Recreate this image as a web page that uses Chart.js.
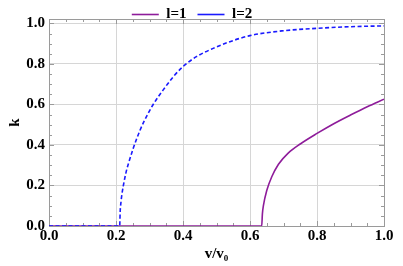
<!DOCTYPE html>
<html>
<head>
<meta charset="utf-8">
<script src="https://cdn.jsdelivr.net/npm/chart.js@4.4.1/dist/chart.umd.min.js"></script>
<style>
  html, body { margin: 0; padding: 0; background: #ffffff; }
  #wrap { width: 403px; height: 266px; position: relative; }
</style>
</head>
<body>
<div id="wrap"><canvas id="c" width="403" height="266"></canvas></div>
<script>
// ---- data ----
const seriesNames = ["l=1", "l=2"];
const xL1 = [0, 0.635, 0.637, 0.640, 0.650, 0.665, 0.685, 0.714, 0.750, 0.800, 0.850, 0.900, 0.950, 1.000];
const kL1 = [0, 0,     0.060, 0.100, 0.175, 0.243, 0.305, 0.360, 0.405, 0.457, 0.505, 0.548, 0.589, 0.626];
const xL2 = [0, 0.211, 0.2125, 0.215, 0.218, 0.222, 0.230, 0.239, 0.252, 0.272, 0.285, 0.311, 0.341, 0.371, 0.400, 0.440, 0.490, 0.540, 0.600, 0.700, 0.800, 0.900, 1.000];
const kL2 = [0, 0,     0.072,  0.120, 0.160, 0.200, 0.265, 0.318, 0.386, 0.474, 0.521, 0.600, 0.672, 0.737, 0.787, 0.836, 0.877, 0.910, 0.940, 0.964, 0.976, 0.984, 0.988];
const xTicks = [0, 0.2, 0.4, 0.6, 0.8, 1.0];
const yTicks = [0, 0.2, 0.4, 0.6, 0.8, 1.0];

const FONT = "'Liberation Serif', 'Times New Roman', serif";
const FS = 15;
const toPts = (xs, ys) => xs.map((x, i) => ({ x: x, y: ys[i] }));

const legendHeightPlugin = {
  id: 'legendHeight',
  beforeUpdate(chart) {
    const lg = chart.legend;
    if (lg && !lg._patched) {
      lg._patched = true;
      const origFit = lg.fit;
      lg.fit = function () { origFit.call(this); this.height = 23; };
    }
  }
};

const framePlugin = {
  id: 'frame',
  beforeDatasetsDraw(chart) {
    const { ctx, chartArea: a, scales } = chart;
    const xs = scales.x, ys = scales.y;
    ctx.save();
    ctx.strokeStyle = '#9a9a9a';
    ctx.lineWidth = 1;
    ctx.beginPath();
    for (let i = 0; i <= 20; i++) {
      const v = i * 0.05;
      const major = i % 4 === 0;
      const len = major ? 5 : 3;
      const px = Math.round(xs.getPixelForValue(v)) + 0.5;
      ctx.moveTo(px, a.bottom); ctx.lineTo(px, a.bottom - len);
      ctx.moveTo(px, a.top); ctx.lineTo(px, a.top + len);
      const py = Math.round(ys.getPixelForValue(v)) + 0.5;
      ctx.moveTo(a.left, py); ctx.lineTo(a.left + len, py);
      ctx.moveTo(a.right, py); ctx.lineTo(a.right - len, py);
    }
    ctx.stroke();
    ctx.strokeRect(Math.round(a.left) + 0.5, Math.round(a.top) + 0.5,
                   Math.round(a.right - a.left), Math.round(a.bottom - a.top));
    ctx.restore();
  }
};

const chart = new Chart(document.getElementById('c'), {
  type: 'line',
  data: {
    datasets: [
      {
        label: seriesNames[0],
        data: toPts(xL1, kL1),
        borderColor: '#8e1c9a',
        backgroundColor: '#8e1c9a',
        borderWidth: 1.6,
        pointRadius: 0,
        cubicInterpolationMode: 'monotone',
        fill: false,
        order: 1
      },
      {
        label: seriesNames[1],
        data: toPts(xL2, kL2),
        borderColor: '#1a1aff',
        backgroundColor: '#1a1aff',
        borderWidth: 1.6,
        borderDash: [4, 2.5],
        pointRadius: 0,
        cubicInterpolationMode: 'monotone',
        fill: false,
        order: 0
      }
    ]
  },
  options: {
    responsive: false,
    animation: false,
    devicePixelRatio: 1,
    layout: { padding: { left: 0, right: 19, top: -4, bottom: 0 } },
    plugins: {
      legend: {
        display: true,
        position: 'top',
        labels: {
          usePointStyle: true,
          pointStyle: 'line',
          pointStyleWidth: 27,
          boxHeight: FS,
          color: '#000',
          padding: 11,
          font: { family: FONT, size: FS, weight: 'bold' },
          sort: (a, b) => a.datasetIndex - b.datasetIndex
        }
      },
      tooltip: { enabled: false }
    },
    scales: {
      x: {
        type: 'linear',
        min: 0,
        max: 1,
        afterFit: s => { s.height = 40; },
        afterBuildTicks: s => { s.ticks = xTicks.map(v => ({ value: v })); },
        ticks: {
          padding: 1,
          color: '#000',
          font: { family: FONT, size: FS, weight: 'bold' },
          callback: v => Number(v).toFixed(1),
          maxRotation: 0,
          autoSkip: false
        },
        grid: { color: '#d6d6d6', lineWidth: 1, drawTicks: false },
        border: { display: false },
        title: {
          display: true,
          text: 'v/v\u2080',
          color: '#000',
          font: { family: FONT, size: FS, weight: 'bold' },
          padding: { top: 0, bottom: 3 }
        }
      },
      y: {
        type: 'linear',
        min: 0,
        max: 1.022,
        afterFit: s => { s.width = 49; s.paddingTop = 0; s.paddingBottom = 0; },
        afterBuildTicks: s => { s.ticks = yTicks.map(v => ({ value: v })); },
        ticks: {
          padding: 4,
          color: '#000',
          font: { family: FONT, size: FS, weight: 'bold' },
          callback: v => Number(v).toFixed(1),
          autoSkip: false
        },
        grid: { color: '#d6d6d6', lineWidth: 1, drawTicks: false },
        border: { display: false },
        title: {
          display: true,
          text: 'k',
          color: '#000',
          font: { family: FONT, size: FS, weight: 'bold' },
          padding: { top: 6, bottom: 0 }
        }
      }
    }
  },
  plugins: [legendHeightPlugin, framePlugin]
});
chart.update();
</script>
</body>
</html>
